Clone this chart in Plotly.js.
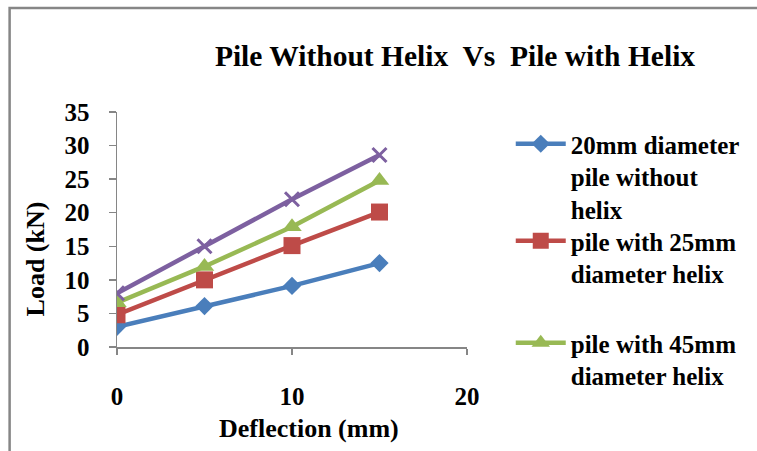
<!DOCTYPE html>
<html>
<head>
<meta charset="utf-8">
<script src="https://cdn.plot.ly/plotly-3.0.1.min.js"></script>
<style>
html,body{margin:0;padding:0;background:#fff;}
#chart{width:757px;height:451px;}
</style>
</head>
<body>
<div id="chart"></div>
<script>
// Data
var deflection = [0, 5, 10, 15];
var loadNoHelix = [3.0, 6.1, 9.1, 12.5];
var load25Helix = [4.8, 10.0, 15.1, 20.1];
var load45Helix = [6.6, 12.0, 17.9, 24.8];
var load65Helix = [8.0, 15.0, 22.0, 28.6];

var seriesNames = [
  "20mm diameter<br>pile without<br>helix",
  "pile with 25mm<br>diameter helix",
  "pile with 45mm<br>diameter helix",
  "pile with 65mm<br>diameter helix"
];
var xTickVals = [0, 10, 20];
var yTickVals = [0, 5, 10, 15, 20, 25, 30, 35];

var FONT = 'Liberation Serif, Times New Roman, serif';
var L = 117, R = 469, T = 112, B = 347, W = 757, H = 451;
function px(x){ return (x - L) / (R - L); }
function py(y){ return (B - y) / (B - T); }

var traces = [
  {x: deflection, y: loadNoHelix, name: seriesNames[0], mode: 'lines+markers', legend: 'legend',
   line: {color: '#4A7EBB', width: 4.5}, marker: {symbol: 'diamond', size: 14, color: '#4A7EBB'}},
  {x: deflection, y: load25Helix, name: seriesNames[1], mode: 'lines+markers', legend: 'legend2',
   line: {color: '#BE4B48', width: 4.5}, marker: {symbol: 'square', size: 17, color: '#BE4B48'}},
  {x: deflection, y: load45Helix, name: seriesNames[2], mode: 'lines+markers', legend: 'legend3',
   line: {color: '#98B954', width: 4.5}, marker: {symbol: 'triangle-up', size: 17, color: '#98B954'}},
  {x: deflection, y: load65Helix, name: seriesNames[3], mode: 'lines+markers', showlegend: false,
   line: {color: '#7D60A0', width: 4.5}, marker: {symbol: 'x-thin-open', size: 14, color: '#7D60A0', line: {color: '#7D60A0', width: 3}}}
];

function leg(yTop){
  return {x: px(513), y: py(yTop), xanchor: 'left', yanchor: 'top', xref: 'paper', yref: 'paper', valign: 'top',
          font: {family: FONT, size: 25, color: '#000', weight: 'bold'}, bgcolor: 'rgba(0,0,0,0)', borderwidth: 0, itemwidth: 50};
}

var layout = {
  width: W, height: H,
  margin: {l: L, r: W - R, t: T, b: H - B, pad: 0},
  paper_bgcolor: '#fff', plot_bgcolor: '#fff',
  font: {family: FONT, color: '#000', size: 25, weight: 'bold'},
  title: {text: 'Pile Without Helix&nbsp; Vs&nbsp; Pile with Helix', font: {family: FONT, size: 29.5, color: '#000', weight: 'bold'},
          xref: 'container', yref: 'container', x: 455 / W, xanchor: 'center', y: 1 - 56 / H, yanchor: 'middle'},
  xaxis: {range: [0, 20], tickvals: xTickVals, ticks: 'outside', ticklen: 6, tickwidth: 1.5, tickcolor: '#868686',
          showline: true, linecolor: '#868686', linewidth: 1.5, showgrid: false, zeroline: false,
          tickfont: {family: FONT, size: 25, color: '#000', weight: 'bold'}, ticklabelstandoff: 20, fixedrange: true},
  yaxis: {range: [0, 35], tickvals: yTickVals, ticks: 'outside', ticklen: 7, tickwidth: 1.5, tickcolor: '#868686',
          showline: true, linecolor: '#868686', linewidth: 1.5, showgrid: false, zeroline: false,
          tickfont: {family: FONT, size: 25, color: '#000', weight: 'bold'}, ticklabelstandoff: 14, fixedrange: true},
  showlegend: true,
  legend: leg(121),
  legend2: leg(218),
  legend3: leg(320),
  annotations: [
    {text: 'Load (kN)', xref: 'paper', yref: 'paper', x: px(35), y: py(259), xanchor: 'center', yanchor: 'middle',
     textangle: -90, showarrow: false, font: {family: FONT, size: 26, color: '#000', weight: 'bold'}},
    {text: 'Deflection (mm)', xref: 'paper', yref: 'paper', x: px(310), y: py(428), xanchor: 'center', yanchor: 'middle',
     showarrow: false, font: {family: FONT, size: 26, color: '#000', weight: 'bold'}}
  ],
  shapes: [
    {type: 'path', xref: 'paper', yref: 'paper',
     path: 'M ' + px(9) + ',' + py(470) + ' L ' + px(9) + ',' + py(8) + ' L ' + px(780) + ',' + py(8),
     line: {color: '#868686', width: 2.5}, layer: 'below'}
  ]
};

Plotly.newPlot('chart', traces, layout, {staticPlot: true, displayModeBar: false});
</script>
</body>
</html>
